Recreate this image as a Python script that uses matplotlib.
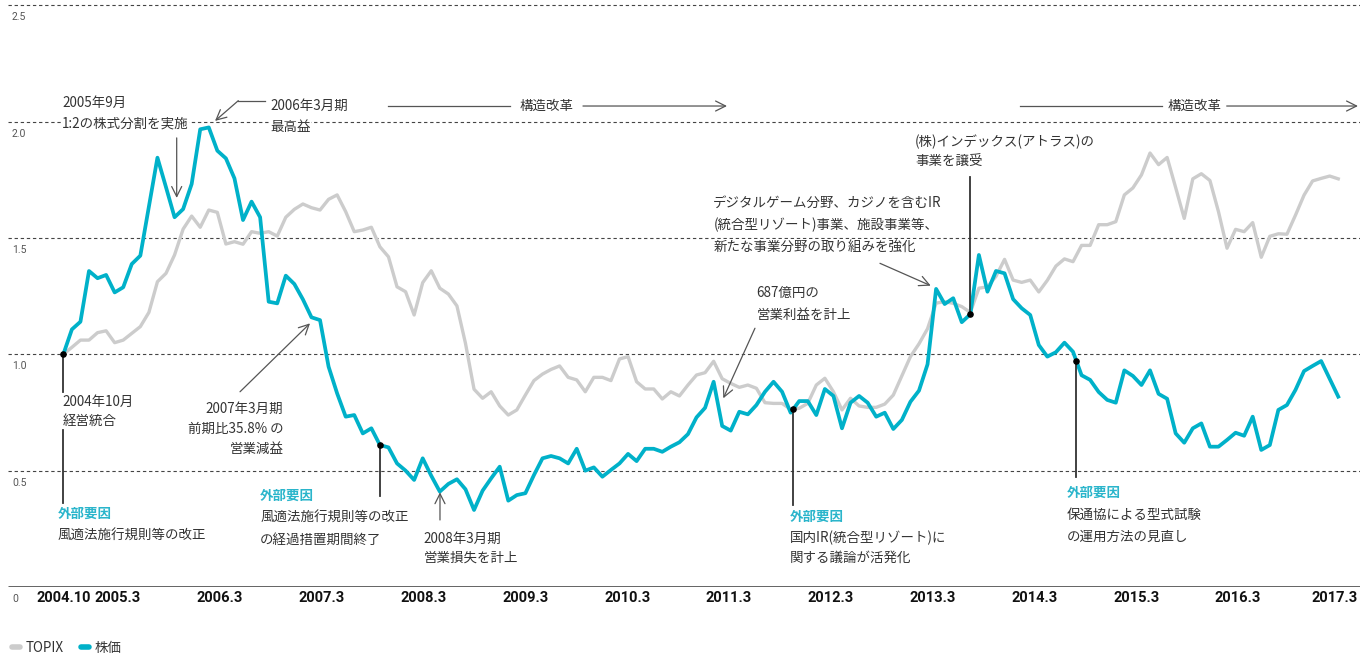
import numpy as np
import matplotlib.pyplot as plt
from matplotlib.lines import Line2D

plt.rcParams['font.family'] = ['Noto Sans CJK JP', 'DejaVu Sans']

# monthly values, 2004.10 -> 2017.3 (index: 2004.10 = 1.0)
topix = [1.000, 1.030, 1.061, 1.061, 1.093, 1.101, 1.050, 1.061, 1.090, 1.119,
         1.180, 1.312, 1.348, 1.427, 1.538, 1.594, 1.546, 1.620, 1.610, 1.474,
         1.484, 1.473, 1.527, 1.520, 1.527, 1.508, 1.589, 1.623, 1.646, 1.630,
         1.620, 1.666, 1.685, 1.613, 1.527, 1.534, 1.546, 1.462, 1.419, 1.290,
         1.269, 1.169, 1.308, 1.359, 1.284, 1.259, 1.208, 1.047, 0.850, 0.811,
         0.839, 0.778, 0.739, 0.761, 0.825, 0.887, 0.915, 0.935, 0.950, 0.901,
         0.890, 0.839, 0.901, 0.901, 0.887, 0.980, 0.990, 0.882, 0.851, 0.851,
         0.808, 0.839, 0.821, 0.868, 0.911, 0.921, 0.970, 0.895, 0.875, 0.858,
         0.868, 0.854, 0.792, 0.789, 0.789, 0.764, 0.768, 0.789, 0.868, 0.897,
         0.839, 0.761, 0.811, 0.778, 0.772, 0.772, 0.786, 0.825, 0.907, 0.990,
         1.045, 1.110, 1.220, 1.226, 1.219, 1.205, 1.180, 1.284, 1.290, 1.335,
         1.408, 1.319, 1.309, 1.319, 1.268, 1.318, 1.379, 1.410, 1.398, 1.468,
         1.468, 1.557, 1.557, 1.570, 1.685, 1.715, 1.771, 1.865, 1.815, 1.846,
         1.716, 1.584, 1.754, 1.776, 1.747, 1.613, 1.456, 1.537, 1.527, 1.566,
         1.417, 1.507, 1.518, 1.516, 1.598, 1.684, 1.745, 1.756, 1.766, 1.754]

stock = [1.000, 1.107, 1.140, 1.358, 1.327, 1.341, 1.266, 1.288, 1.388, 1.424,
         1.634, 1.845, 1.718, 1.589, 1.624, 1.732, 1.967, 1.975, 1.875, 1.842,
         1.756, 1.577, 1.656, 1.589, 1.226, 1.219, 1.338, 1.302, 1.236, 1.159,
         1.147, 0.947, 0.832, 0.732, 0.739, 0.660, 0.682, 0.610, 0.600, 0.531,
         0.500, 0.460, 0.553, 0.478, 0.410, 0.443, 0.463, 0.420, 0.331, 0.414,
         0.467, 0.517, 0.371, 0.395, 0.403, 0.481, 0.553, 0.563, 0.553, 0.531,
         0.594, 0.500, 0.514, 0.474, 0.503, 0.531, 0.572, 0.541, 0.594, 0.594,
         0.581, 0.603, 0.622, 0.657, 0.729, 0.770, 0.882, 0.692, 0.672, 0.753,
         0.742, 0.782, 0.839, 0.882, 0.839, 0.749, 0.799, 0.799, 0.739, 0.851,
         0.821, 0.682, 0.792, 0.821, 0.792, 0.732, 0.749, 0.679, 0.718, 0.796,
         0.844, 0.957, 1.281, 1.216, 1.241, 1.138, 1.172, 1.427, 1.269, 1.358,
         1.348, 1.237, 1.198, 1.169, 1.040, 0.990, 1.009, 1.050, 1.011, 0.910,
         0.890, 0.838, 0.804, 0.792, 0.931, 0.907, 0.868, 0.931, 0.830, 0.809,
         0.660, 0.620, 0.682, 0.703, 0.603, 0.603, 0.632, 0.663, 0.650, 0.732,
         0.589, 0.610, 0.761, 0.782, 0.847, 0.928, 0.950, 0.971, 0.894, 0.818]

tick_labels = ['2004.10', '2005.3', '2006.3', '2007.3', '2008.3', '2009.3', '2010.3',
               '2011.3', '2012.3', '2013.3', '2014.3', '2015.3', '2016.3', '2017.3']
tick_months = [0, 6.4, 18.3, 30.2, 42.1, 54, 65.9, 77.8, 89.7, 101.6, 113.5, 125.4, 137.3, 148.6]
grid_values = [0.5, 1.0, 1.5, 2.0, 2.5]
ylabels = ['0', '0.5', '1.0', '1.5', '2.0', '2.5']

# event months (index from 2004.10) where a dot is drawn on the stock line
event_months = [0, 37, 85.3, 106, 118.4]

CYAN = '#00b1c9'
CYAN_TXT = '#2ab5cb'
GRAY = '#cccccc'
TXT = '#333333'
ARR = '#555555'

months = np.arange(len(stock))

fig = plt.figure(figsize=(13.6, 6.54), dpi=100)
ax = fig.add_axes([0, 67 / 654, 1, 587 / 654])
ax.set_xlim(-7.4, 151.54)
ax.set_ylim(0, 2.5226)
for s in ax.spines.values():
    s.set_visible(False)
ax.set_yticks([])
ax.set_xticks(tick_months, tick_labels, fontfamily=['Roboto', 'DejaVu Sans'],
              fontweight='bold', fontsize=10.5, color='#111111')
ax.tick_params(axis='x', length=0, pad=3)

x0 = -6.46
for g in grid_values:
    ax.hlines(g, x0, 151.54, colors='#444444', lw=0.8, linestyles=(0, (3, 2.5)), zorder=1)
ax.hlines(0, x0, 151.54, colors='#555555', lw=2, zorder=1)
for v, lab in zip([0] + grid_values, ylabels):
    ax.annotate(lab, (-6.0, v), xytext=(0, -5), textcoords='offset points', va='top',
                fontsize=7.5, color='#555555', family=['Roboto', 'DejaVu Sans'])

ax.plot(months, topix, color=GRAY, lw=2.4, zorder=3)
ax.plot(months, stock, color=CYAN, lw=2.7, zorder=4)

dot_y = np.interp(event_months, months, stock)


def note(x, y, lines, step=0.092, ha='left', first_cyan=False):
    for k, s in enumerate(lines):
        bold = first_cyan and k == 0
        ax.text(x, y - k * step, s, ha=ha, va='center', fontsize=9.7,
                color=CYAN_TXT if bold else TXT, fontweight='bold' if bold else 'normal',
                bbox=dict(facecolor='white', edgecolor='none', pad=0.5), zorder=5)


def arrow(x1, y1, x2, y2):
    ax.annotate('', xy=(x2, y2), xytext=(x1, y1), zorder=6,
                arrowprops=dict(arrowstyle='->', color=ARR, lw=0.9, mutation_scale=18,
                                shrinkA=0, shrinkB=0))


def stem(x, y1, y2):
    ax.plot([x, x], [y1, y2], color='#333333', lw=1.3, zorder=5)


# 2005.9 split
note(-0.15, 2.080, ['2005年9月', '1:2の株式分割を実施'], step=0.09)
arrow(13.25, 1.930, 13.25, 1.672)

# 2006.3 peak
note(24.16, 2.067, ['2006年3月期', '最高益'], step=0.089)
ax.plot([23.57, 20.45], [2.090, 2.090], color=ARR, lw=0.9, zorder=6)
arrow(20.45, 2.090, 17.73, 2.003)

# structural reform arrows
ax.plot([37.95, 52.2], [2.067, 2.067], color=ARR, lw=0.9)
ax.text(56.47, 2.067, '構造改革', ha='center', va='center', fontsize=9.7, color=TXT)
arrow(60.73, 2.067, 77.56, 2.067)
ax.plot([111.8, 128.36], [2.067, 2.067], color=ARR, lw=0.9)
ax.text(132.26, 2.067, '構造改革', ha='center', va='center', fontsize=9.7, color=TXT)
arrow(135.96, 2.067, 151.3, 2.067)

# 2004.10 merger
stem(event_months[0], dot_y[0], 0.839)
note(-0.07, 0.796, ['2004年10月', '経営統合'], step=0.083)
stem(event_months[0], 0.675, 0.360)
note(-0.70, 0.314, ['外部要因', '風適法施行規則等の改正'], step=0.095, first_cyan=True)

# 2007.3
note(25.71, 0.764, ['2007年3月期', '前期比35.8% の', '営業減益'], step=0.086, ha='right')
arrow(20.65, 0.839, 28.83, 1.133)

# external factor 2
stem(event_months[1], dot_y[1], 0.392)
note(22.99, 0.391, ['外部要因', '風適法施行規則等の改正', 'の経過措置期間終了'],
     step=0.094, first_cyan=True)

# 2008.3
note(42.07, 0.206, ['2008年3月期', '営業損失を計上'], step=0.081)
arrow(44.02, 0.288, 44.02, 0.407)

# 687
note(81.03, 1.262, ['687億円の', '営業利益を計上'], step=0.093)
arrow(80.83, 1.112, 77.13, 0.811)

# IR
stem(event_months[2], dot_y[2], 0.352)
note(84.92, 0.301, ['外部要因', '国内IR(統合型リゾート)に', '関する議論が活発化'],
     step=0.088, first_cyan=True)

# digital / casino
note(75.96, 1.650, ['デジタルゲーム分野、カジノを含むIR', '(統合型リゾート)事業、施設事業等、',
                    '新たな事業分野の取り組みを強化'], step=0.093)
arrow(95.44, 1.391, 101.37, 1.295)

# Index acquisition
stem(event_months[3], dot_y[3], 1.763)
note(99.53, 1.914, ['(株)インデックス(アトラス)の', '事業を譲受'], step=0.086)

# external factor 4
stem(event_months[4], dot_y[4], 0.474)
note(117.26, 0.405, ['外部要因', '保通協による型式試験', 'の運用方法の見直し'],
     step=0.094, first_cyan=True)

ax.scatter(event_months, dot_y, s=14, color='black', zorder=7)

handles = [Line2D([], [], color=GRAY, lw=4, solid_capstyle='round'),
           Line2D([], [], color=CYAN, lw=4, solid_capstyle='round')]
fig.legend(handles, ['TOPIX', '株価'], loc='lower left', bbox_to_anchor=(0.0, -0.02),
           ncol=2, frameon=False, handlelength=0.6, handletextpad=0.4,
           columnspacing=1.3, fontsize=9.7, labelcolor=TXT)

fig.savefig('out.png', dpi=100)
